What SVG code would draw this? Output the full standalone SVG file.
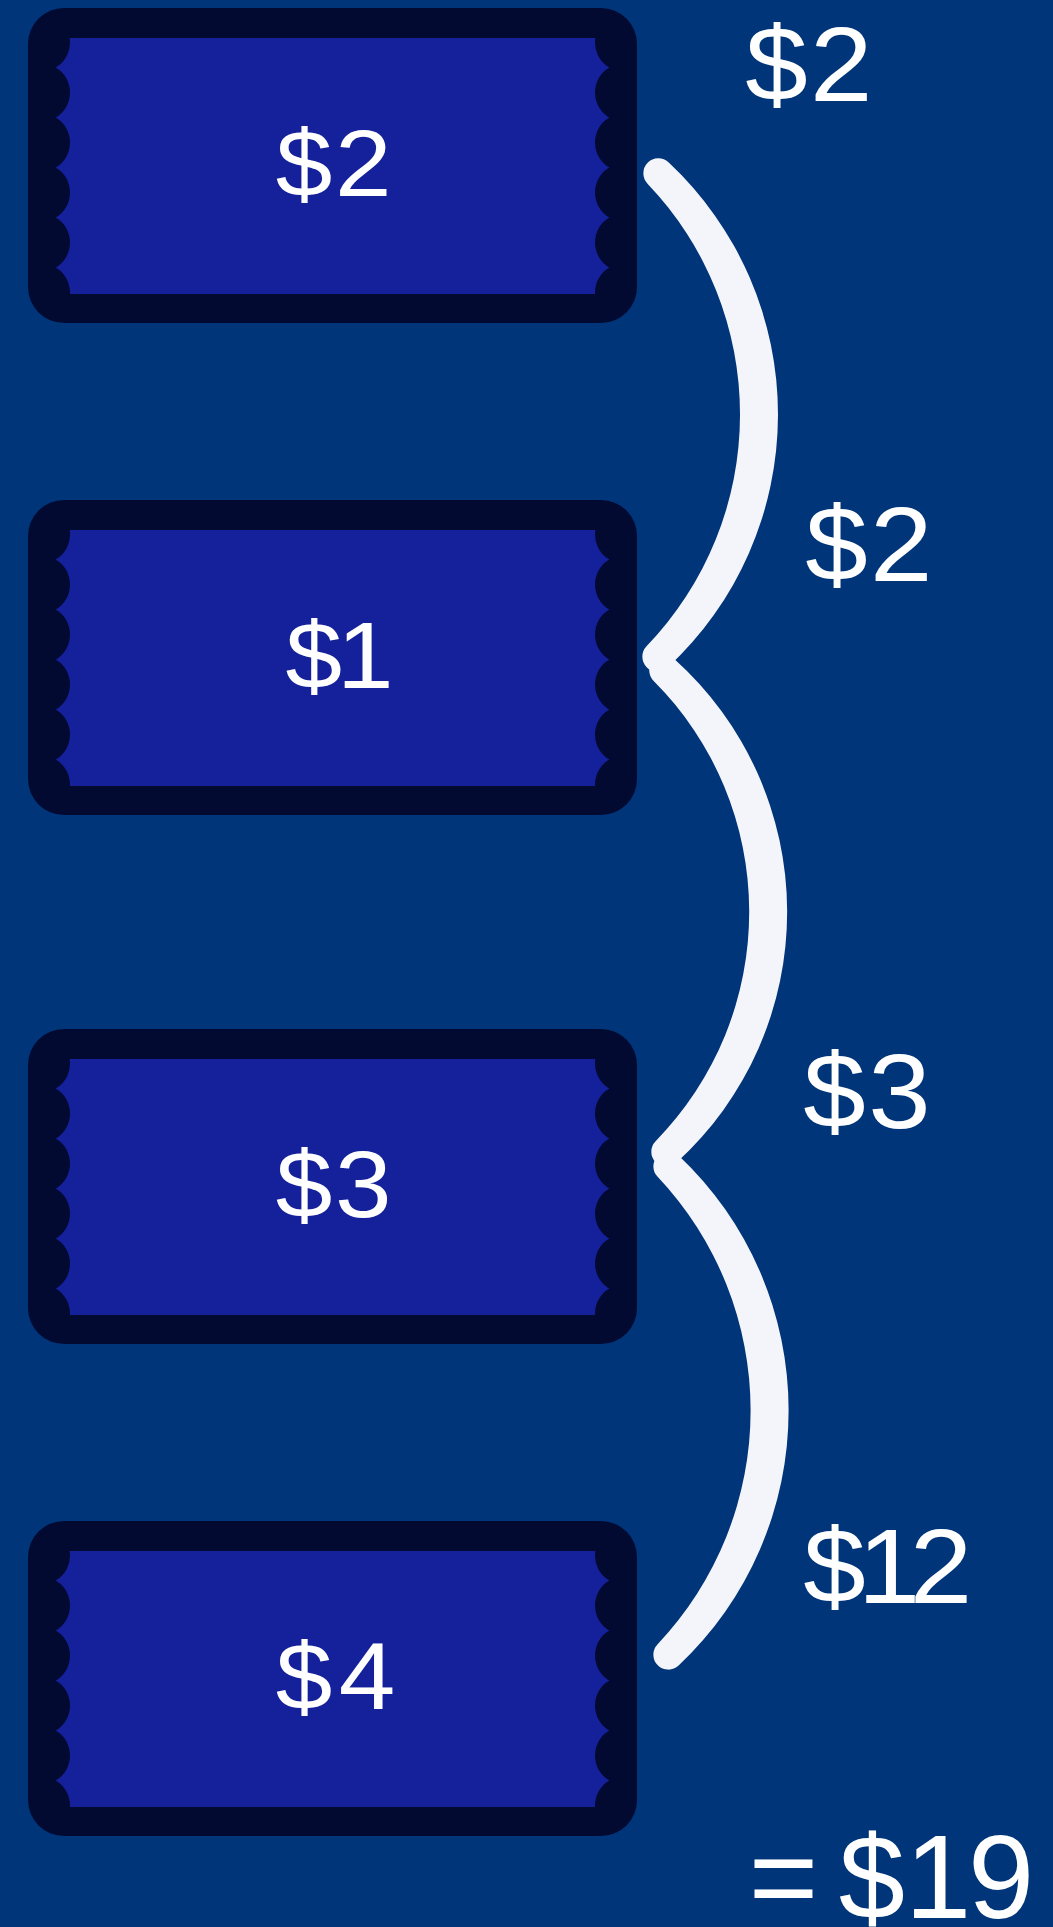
<svg xmlns="http://www.w3.org/2000/svg" xmlns:xlink="http://www.w3.org/1999/xlink" width="1053" height="1927" viewBox="0 0 1053 1927">
<defs>
<style>
.bg{fill:#013579}
.frame{fill:#030a31}
.face{fill:#15209b}
.price{font-family:"Liberation Sans",Arial,sans-serif;font-size:95px;fill:#ffffff}
.label{font-family:"Liberation Sans",Arial,sans-serif;font-size:106px;fill:#ffffff}
.total{font-family:"Liberation Sans",Arial,sans-serif;font-size:119px;fill:#ffffff}
.arc{fill:#f4f5fa;stroke:none}
</style>
<g id="ticket-shape">
<rect class="frame" x="28" y="0" width="609" height="315" rx="36"/>
<path class="face" d="M69.65,30 H595.35 A29,29 0 0 0 609.3,59.5 A29,29 0 0 0 609.3,109.5 A29,29 0 0 0 609.3,159.5 A29,29 0 0 0 609.3,209.5 A29,29 0 0 0 609.3,259.5 A29,29 0 0 0 595.04,286 H69.96 A29,29 0 0 0 55.7,259.5 A29,29 0 0 0 55.7,209.5 A29,29 0 0 0 55.7,159.5 A29,29 0 0 0 55.7,109.5 A29,29 0 0 0 55.7,59.5 A29,29 0 0 0 69.65,30 Z"/>
</g>
</defs>
<rect class="bg" x="0" y="0" width="1053" height="1927"/>
<g id="ticket1">
<use xlink:href="#ticket-shape" href="#ticket-shape" x="0" y="8"/>
<text class="price" transform="scale(1.07,1)" x="257.66 312.99" y="196">$2</text>
</g>
<g id="ticket2">
<use xlink:href="#ticket-shape" href="#ticket-shape" x="0" y="500"/>
<text class="price" transform="scale(1.07,1)" x="266.73 314.95" y="688">$1</text>
</g>
<g id="ticket3">
<use xlink:href="#ticket-shape" href="#ticket-shape" x="0" y="1029"/>
<text class="price" transform="scale(1.07,1)" x="257.66 313.08" y="1217">$3</text>
</g>
<g id="ticket4">
<use xlink:href="#ticket-shape" href="#ticket-shape" x="0" y="1521"/>
<text class="price" transform="scale(1.07,1)" x="257.66 316.7" y="1709">$4</text>
</g>
<g id="connectors">
<path class="arc" d="M668.5,162.3 A345.3,345.3 0 0 1 667.5,667.7 A15,15 0 0 1 646.5,646.3 A334.1,334.1 0 0 0 647.5,183.7 A15,15 0 0 1 668.5,162.3 Z"/>
<path class="arc" d="M674.3,659.1 A339.6,339.6 0 0 1 676.4,1162.8 A15,15 0 0 1 655.6,1141.2 A327.4,327.4 0 0 0 653.7,680.9 A15,15 0 0 1 674.3,659.1 Z"/>
<path class="arc" d="M678.6,1155.4 A350.8,350.8 0 0 1 678.6,1665.6 A15,15 0 0 1 657.4,1644.4 A340.1,340.1 0 0 0 657.4,1176.6 A15,15 0 0 1 678.6,1155.4 Z"/>
</g>
<g id="labels">
<text class="label" transform="scale(1.06,1)" x="703.11 764.15" y="101">$2</text>
<text class="label" transform="scale(1.06,1)" x="759.72 820.75" y="581">$2</text>
<text class="label" transform="scale(1.06,1)" x="757.83 819.15" y="1128">$3</text>
<text class="label" transform="scale(1.06,1)" x="757.83 809.25 858.21" y="1603">$12</text>
<text class="total" x="748.7 800 838.8 905 968.1" y="1918">= $19</text>
</g>
</svg>
